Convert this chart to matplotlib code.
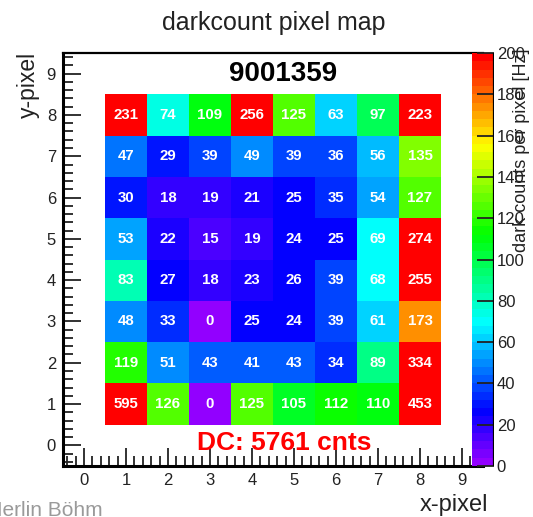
import colorsys
import numpy as np
import matplotlib
matplotlib.use("Agg")
import matplotlib.pyplot as plt
from matplotlib.colors import ListedColormap, Normalize
from matplotlib.ticker import MultipleLocator

# dark counts per pixel, rows listed from y-pixel 8 (top) down to y-pixel 1
x_pixels = [1, 2, 3, 4, 5, 6, 7, 8]
y_pixels = [8, 7, 6, 5, 4, 3, 2, 1]
row_y8 = [231, 74, 109, 256, 125, 63, 97, 223]
row_y7 = [47, 29, 39, 49, 39, 36, 56, 135]
row_y6 = [30, 18, 19, 21, 25, 35, 54, 127]
row_y5 = [53, 22, 15, 19, 24, 25, 69, 274]
row_y4 = [83, 27, 18, 23, 26, 39, 68, 255]
row_y3 = [48, 33, 0, 25, 24, 39, 61, 173]
row_y2 = [119, 51, 43, 41, 43, 34, 89, 334]
row_y1 = [595, 126, 0, 125, 105, 112, 110, 453]
sensor_id = "9001359"
total_counts = 5761
z_min, z_max = 0, 200

plt.rcParams['font.family'] = ['Liberation Sans', 'DejaVu Sans']

# "pretty" violet -> red palette with 50 steps (hue scan at fixed L, S)
n_col = 50
pal = []
for i in range(n_col - 1):
    hue = 280 - (i + 1) * (280 / n_col)
    pal.append(colorsys.hls_to_rgb(hue / 360.0, 0.5, 1.0))
pal.append((1.0, 0.0, 0.0))
cmap = ListedColormap(pal)
cmap.set_over(pal[-1])
norm = Normalize(vmin=z_min, vmax=z_max)

W, H = 533, 517
fig = plt.figure(figsize=(W / 100, H / 100), dpi=100)
ax = fig.add_axes([63 / W, 1 - 466 / H, 420 / W, 413 / H])

grid = np.array([row_y8, row_y7, row_y6, row_y5, row_y4, row_y3, row_y2, row_y1], dtype=float)
xe = np.arange(min(x_pixels) - 0.5, max(x_pixels) + 1.5)
ye = np.arange(min(y_pixels) - 0.5, max(y_pixels) + 1.5)
mesh = ax.pcolormesh(xe, ye, grid[::-1], cmap=cmap, norm=norm, shading='flat')

for r, yv in enumerate(y_pixels):
    for c, xv in enumerate(x_pixels):
        ax.text(xv, yv, "%d" % grid[r, c], ha='center', va='center',
                color='white', fontsize=10.8, fontweight='bold')

ax.text(4.75, 9.0, sensor_id, ha='center', va='center', fontsize=20,
        fontweight='bold', color='black')
ax.text(4.77, 0.05, "DC: %d cnts" % total_counts, ha='center', va='center',
        fontsize=19, fontweight='bold', color='red')

ax.set_xlim(-0.5, 9.5)
ax.set_ylim(-0.5, 9.5)
for a in (ax.xaxis, ax.yaxis):
    a.set_major_locator(MultipleLocator(1))
    a.set_minor_locator(MultipleLocator(0.2))
ax.tick_params(which='both', direction='in', top=False, right=False,
               labelsize=12, colors='#222222', width=1.3, pad=5)
ax.tick_params(which='major', length=13)
ax.tick_params(which='minor', length=7)
for s in ('left', 'bottom'):
    ax.spines[s].set_linewidth(2.2)
ax.spines['top'].set_linewidth(1.6)
ax.spines['right'].set_visible(False)

# palette axis sits over the right part of the frame
cax = fig.add_axes([472 / W, 1 - 466 / H, 22 / W, 413 / H], zorder=5)
cb = fig.colorbar(mesh, cax=cax)
cb.outline.set_visible(False)
cb.set_ticks(np.arange(z_min, z_max + 1, 20))
cb.minorticks_off()
cax.tick_params(which='major', direction='in', length=12, width=1.3,
                labelsize=12, colors='#222222', pad=2)
cax.axvline(1, color='black', lw=1.6)

fig.text(274 / W, 1 - 23 / H, "darkcount pixel map", ha='center', va='center',
         fontsize=18, color='#222222')
fig.text(28 / W, 1 - 52 / H, "y-pixel", rotation=90, ha='center', va='top',
         fontsize=16.5, color='#222222')
fig.text(488 / W, 1 - 505 / H, "x-pixel", ha='right', va='center',
         fontsize=17, color='#222222')
fig.text(521 / W, 1 - 48 / H, "dark counts per pixel [Hz]", rotation=90,
         ha='center', va='top', fontsize=13, color='#222222')
fig.text(103 / W, 1 - 516 / H, "Merlin Böhm", ha='right', va='baseline',
         fontsize=15, color='#9a9a9a')

fig.savefig("out.png", dpi=100)
